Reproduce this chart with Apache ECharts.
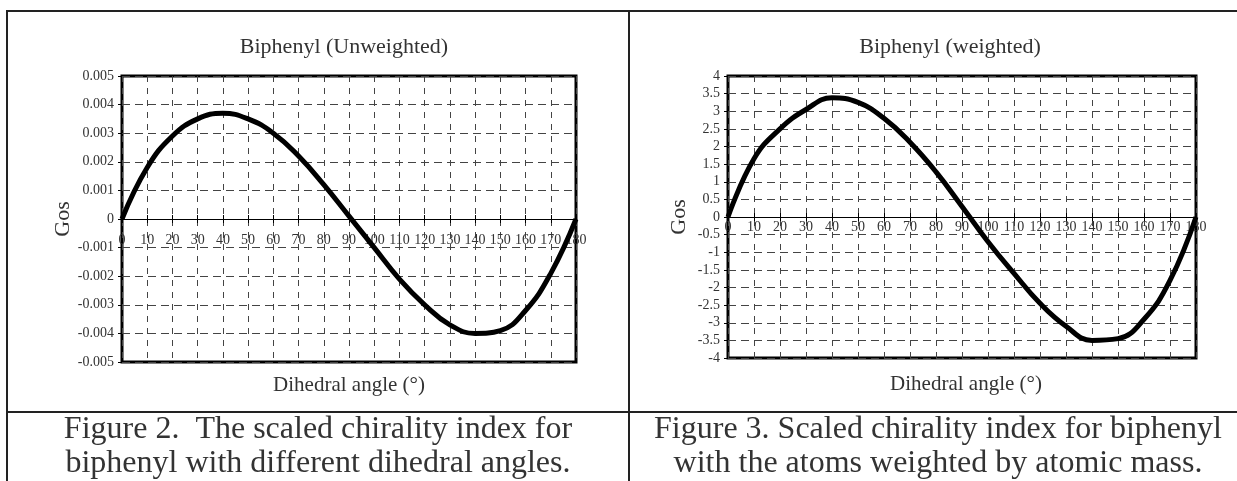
<!doctype html>
<html>
<head>
<meta charset="UTF-8">
<title>Biphenyl chirality index</title>
<script src="https://cdn.jsdelivr.net/npm/echarts@6/dist/echarts.min.js"></script>
<style>
  html, body { margin: 0; padding: 0; background: #fff; }
  #main { width: 1237px; height: 481px; }
</style>
</head>
<body>
<div id="main"></div>
<script>
// dihedral angle (degrees)
var angles = [0, 10, 20, 30, 40, 50, 60, 70, 80, 90, 100, 110, 120, 130, 140, 150, 160, 170, 180];
// Figure 2 - unweighted Gos
var gosUnweighted = [0, 0.0018, 0.0029, 0.0035, 0.0037, 0.0035, 0.0030, 0.0022, 0.0012, 0.0001,
                     -0.0010, -0.0021, -0.0030, -0.0037, -0.0040, -0.0039, -0.0032, -0.0019, 0];
// Figure 3 - weighted by atomic mass
var gosWeighted = [0, 1.65, 2.5, 3.05, 3.38, 3.25, 2.8, 2.12, 1.28, 0.3,
                   -0.7, -1.6, -2.45, -3.1, -3.5, -3.45, -2.9, -1.8, 0];

var chartTitles = ['Biphenyl (Unweighted)', 'Biphenyl (weighted)'];
var xTitle = 'Dihedral angle (°)';
var captions = [
  ['Figure 2.  The scaled chirality index for', 'biphenyl with different dihedral angles.'],
  ['Figure 3. Scaled chirality index for biphenyl', 'with the atoms weighted by atomic mass.']
];

var serif = '"Liberation Serif", "Times New Roman", serif';
var textColor = '#333';

function pairs(xs, ys) {
  var out = [];
  for (var i = 0; i < xs.length; i++) out.push([xs[i], ys[i]]);
  return out;
}

// plot boxes: main grid, then upper half / lower half split at y = 0
var plots = [
  { left: 122, top: 76, width: 454, height: 286, labelMargin: 14 },
  { left: 728, top: 76, width: 468, height: 282, labelMargin: 3 }
];
var grids = [], xAxes = [], yAxes = [];

function addGrid(g) {
  grids.push(g);
  return grids.length - 1;
}

plots.forEach(function (p, k) {
  var half = p.height / 2;
  var main = addGrid({ left: p.left, top: p.top, width: p.width, height: p.height,
    show: true, borderColor: '#000', borderWidth: 3 });
  var upper = addGrid({ left: p.left, top: p.top, width: p.width, height: half });
  var lower = addGrid({ left: p.left, top: p.top + half, width: p.width, height: half });

  // main x axis: only the dashed vertical grid
  xAxes.push({ type: 'value', gridIndex: main, min: 0, max: 180, interval: 10,
    axisLine: { show: false }, axisTick: { show: false }, axisLabel: { show: false },
    splitLine: { show: true, lineStyle: { color: '#444', width: 1, type: [6, 6] } } });
  // zero line with labels and lower ticks
  xAxes.push({ type: 'value', gridIndex: upper, min: 0, max: 180, interval: 10, position: 'bottom',
    axisLine: { show: true, onZero: false, lineStyle: { color: '#000', width: 1 } },
    axisTick: { show: true, length: 4, lineStyle: { color: '#000' } },
    axisLabel: { margin: p.labelMargin, color: textColor, fontFamily: serif, fontSize: 14 },
    splitLine: { show: false } });
  // upper half of the tick crosses
  xAxes.push({ type: 'value', gridIndex: lower, min: 0, max: 180, interval: 10, position: 'top',
    axisLine: { show: false, onZero: false }, axisTick: { show: true, length: 4, lineStyle: { color: '#000' } },
    axisLabel: { show: false }, splitLine: { show: false } });

  yAxes.push(k === 0 ? {
    type: 'value', gridIndex: main, min: -0.005, max: 0.005, interval: 0.001,
    name: 'Gos', nameLocation: 'middle', nameGap: 40,
    nameTextStyle: { fontFamily: serif, fontSize: 22, color: textColor },
    axisLine: { show: false },
    axisTick: { show: true, length: 4, lineStyle: { color: '#000' } },
    axisLabel: { margin: 8, color: textColor, fontFamily: serif, fontSize: 14,
      formatter: function (v) { return String(+v.toFixed(3)); } },
    splitLine: { show: true, lineStyle: { color: '#444', width: 1, type: [8, 5] } }
  } : {
    type: 'value', gridIndex: main, min: -4, max: 4, interval: 0.5,
    name: 'Gos', nameLocation: 'middle', nameGap: 38,
    nameTextStyle: { fontFamily: serif, fontSize: 22, color: textColor },
    axisLine: { show: false },
    axisTick: { show: true, length: 4, lineStyle: { color: '#000' } },
    axisLabel: { margin: 8, color: textColor, fontFamily: serif, fontSize: 14,
      formatter: function (v) { return String(+v.toFixed(1)); } },
    splitLine: { show: true, lineStyle: { color: '#444', width: 1, type: [8, 5] } }
  });
  yAxes.push({ type: 'value', gridIndex: upper, min: 0, max: 1, show: false });
  yAxes.push({ type: 'value', gridIndex: lower, min: -1, max: 0, show: false });
});

var myChart = echarts.init(document.getElementById('main'));

var option = {
  animation: false,
  backgroundColor: '#fff',
  title: [
    { text: chartTitles[0], left: 339, top: 31, textAlign: 'center',
      textStyle: { fontFamily: serif, fontSize: 22, fontWeight: 'normal', color: textColor } },
    { text: chartTitles[1], left: 945, top: 31, textAlign: 'center',
      textStyle: { fontFamily: serif, fontSize: 22, fontWeight: 'normal', color: textColor } }
  ],
  grid: grids,
  xAxis: xAxes,
  yAxis: yAxes,
  series: [
    { type: 'line', xAxisIndex: 0, yAxisIndex: 0, data: pairs(angles, gosUnweighted),
      smooth: 0.45, showSymbol: false, lineStyle: { color: '#000', width: 5 }, z: 5 },
    { type: 'line', xAxisIndex: 3, yAxisIndex: 3, data: pairs(angles, gosWeighted),
      smooth: 0.45, showSymbol: false, lineStyle: { color: '#000', width: 5 }, z: 5 }
  ],
  graphic: [
    // table frame
    { type: 'line', shape: { x1: 6, y1: 11, x2: 1237, y2: 11 }, style: { stroke: '#222', lineWidth: 2 } },
    { type: 'line', shape: { x1: 7, y1: 11, x2: 7, y2: 481 }, style: { stroke: '#222', lineWidth: 2 } },
    { type: 'line', shape: { x1: 629, y1: 11, x2: 629, y2: 481 }, style: { stroke: '#222', lineWidth: 2 } },
    { type: 'line', shape: { x1: 7, y1: 412, x2: 1237, y2: 412 }, style: { stroke: '#222', lineWidth: 2 } },
    // x axis titles
    { type: 'text', x: 349, y: 385, style: { text: xTitle, align: 'center', verticalAlign: 'middle',
      font: '21px ' + serif, fill: textColor } },
    { type: 'text', x: 966, y: 384, style: { text: xTitle, align: 'center', verticalAlign: 'middle',
      font: '21px ' + serif, fill: textColor } },
    // captions
    { type: 'text', x: 318, y: 430, style: { text: captions[0][0], align: 'center', verticalAlign: 'middle',
      font: '32px ' + serif, fill: textColor } },
    { type: 'text', x: 318, y: 464, style: { text: captions[0][1], align: 'center', verticalAlign: 'middle',
      font: '32px ' + serif, fill: textColor } },
    { type: 'text', x: 938, y: 430, style: { text: captions[1][0], align: 'center', verticalAlign: 'middle',
      font: '32px ' + serif, fill: textColor } },
    { type: 'text', x: 938, y: 464, style: { text: captions[1][1], align: 'center', verticalAlign: 'middle',
      font: '32px ' + serif, fill: textColor } }
  ]
};

myChart.setOption(option);
</script>
</body>
</html>
